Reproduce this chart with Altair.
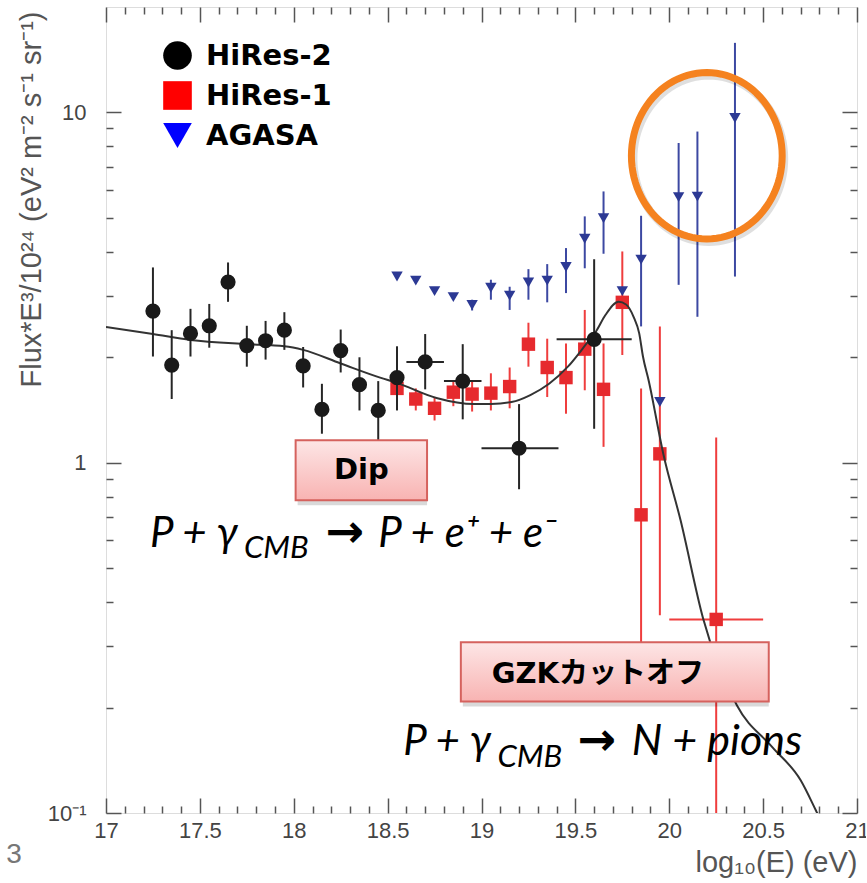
import altair as alt
import numpy as np
import pandas as pd

# ---------------- data: Flux * E^3 / 1e24 versus log10(E) ----------------
series_names = ["HiRes-2", "HiRes-1", "AGASA"]

# HiRes-2
hr2_e = [17.25, 17.35, 17.45, 17.55, 17.65, 17.75, 17.85, 17.95, 18.05, 18.15,
         18.25, 18.35, 18.45, 18.55, 18.70, 18.90, 19.20, 19.60]
hr2_f = [2.71, 1.90, 2.34, 2.46, 3.28, 2.16, 2.23, 2.39, 1.89, 1.42,
         2.09, 1.67, 1.41, 1.75, 1.94, 1.71, 1.10, 2.25]
hr2_hi = [3.61, 2.39, 2.75, 2.84, 3.73, 2.46, 2.54, 2.69, 2.14, 1.68,
          2.40, 2.00, 1.71, 2.15, 2.33, 2.18, 1.47, 3.81]
hr2_lo = [2.01, 1.52, 2.01, 2.13, 2.88, 1.88, 1.97, 2.10, 1.64, 1.21,
          1.81, 1.41, 1.12, 1.41, 1.62, 1.33, 0.84, 1.25]
hr2_bin_lo = [None] * 14 + [18.60, 18.80, 19.00, 19.40]
hr2_bin_hi = [None] * 14 + [18.80, 19.00, 19.41, 19.80]

# HiRes-1
hr1_e = [18.55, 18.65, 18.75, 18.85, 18.95, 19.05, 19.15, 19.25, 19.35, 19.45,
         19.55, 19.65, 19.75, 19.85, 19.95, 20.25]
hr1_f = [1.63, 1.52, 1.43, 1.59, 1.57, 1.58, 1.65, 2.18, 1.87, 1.75,
         2.11, 1.62, 2.87, 0.71, 1.06, 0.357]
hr1_hi = [1.76, 1.63, 1.53, 1.72, 1.72, 1.80, 1.87, 2.51, 2.26, 2.19,
          2.73, 2.19, 4.01, 1.63, 2.45, 1.18]
hr1_lo = [1.48, 1.41, 1.32, 1.45, 1.40, 1.41, 1.43, 1.88, 1.54, 1.38,
          1.61, 1.11, 2.03, 0.22, 0.367, 0.05]
hr1_bin_lo = [None] * 15 + [20.0]
hr1_bin_hi = [None] * 15 + [20.5]

# AGASA
ag_e = [18.55, 18.65, 18.75, 18.85, 18.95, 19.05, 19.15, 19.25, 19.35, 19.45,
        19.55, 19.65, 19.75, 19.85, 19.95, 20.05, 20.15, 20.35]
ag_f = [3.40, 3.31, 3.09, 2.97, 2.82, 3.16, 3.00, 3.27, 3.31, 3.62,
        4.36, 4.99, 3.09, 3.80, 1.49, 5.73, 5.75, 9.64]
ag_hi = [3.40, 3.31, 3.09, 2.97, 2.92, 3.33, 3.18, 3.57, 3.69, 4.10,
         5.05, 5.95, 3.09, 5.07, 1.49, 8.18, 8.82, 15.8]
ag_lo = [3.40, 3.31, 3.09, 2.97, 2.72, 2.92, 2.73, 2.92, 2.87, 3.05,
         3.59, 3.95, 3.09, 2.45, 1.49, 3.22, 2.61, 3.40]

# model curve (dip + GZK cutoff)
cv_e = [17.00, 17.25, 17.45, 17.75, 17.95, 18.05, 18.25, 18.46, 18.55, 18.76,
        18.96, 19.05, 19.16, 19.26, 19.36, 19.46, 19.56, 19.61, 19.66, 19.73,
        19.77, 19.81, 19.84, 19.86, 19.89, 19.97, 20.06, 20.18, 20.36, 20.55,
        20.70, 20.78, 20.85]
cv_f = [2.44, 2.33, 2.24, 2.18, 2.15, 2.10, 1.92, 1.75, 1.69, 1.53,
        1.47, 1.47, 1.49, 1.56, 1.68, 1.88, 2.19, 2.37, 2.64, 2.88,
        2.83, 2.61, 2.34, 2.01, 1.72, 1.05, 0.686, 0.36, 0.203, 0.154,
        0.124, 0.102, 0.085]

# axis ticks
x_major = [17, 17.5, 18, 18.5, 19, 19.5, 20, 20.5, 21]
x_minor = [round(17 + 0.1 * i, 1) for i in range(41) if i % 5 != 0]
y_major = [0.1, 1, 10]
y_minor = [0.2, 0.3, 0.4, 0.5, 0.6, 0.7, 0.8, 0.9, 2, 3, 4, 5, 6, 7, 8, 9]

# annotation boxes and reaction formulas
box_label = ["Dip", "GZKカットオフ"]
box_e0 = [18.01, 18.89]
box_e1 = [18.71, 20.53]
box_f0 = [0.782, 0.208]
box_f1 = [1.16, 0.307]
box_text_e = [18.36, 19.62]
box_text_f = [0.953, 0.250]

eq_text = ["P + γ", "CMB", "P + e⁺ + e⁻", "P + γ", "CMB", "N + pions"]
eq_e = [17.234, 17.735, 18.45, 18.583, 19.085, 19.80]
eq_f = [0.576, 0.533, 0.576, 0.146, 0.1353, 0.146]
eq_size = [42, 31, 42, 42, 31, 43]
arrow_e = [18.170, 19.512]
arrow_f = [0.576, 0.146]

ring_e = [20.20]
ring_f = [7.52]

# ---------------- tables ----------------
hr2 = pd.DataFrame({"e": hr2_e, "f": hr2_f, "f_lo": hr2_lo, "f_hi": hr2_hi,
                    "e_lo": hr2_bin_lo, "e_hi": hr2_bin_hi})
hr1 = pd.DataFrame({"e": hr1_e, "f": hr1_f, "f_lo": hr1_lo, "f_hi": hr1_hi,
                    "e_lo": hr1_bin_lo, "e_hi": hr1_bin_hi})
ag = pd.DataFrame({"e": ag_e, "f": ag_f, "f_lo": ag_lo, "f_hi": ag_hi})
curve = pd.DataFrame({"e": cv_e, "f": cv_f})
legend_df = pd.DataFrame({"series": series_names, "e": [hr2_e[0], hr1_e[0], ag_e[0]],
                          "f": [hr2_f[0], hr1_f[0], ag_f[0]]})
boxes = pd.DataFrame({"label": box_label, "e0": box_e0, "e1": box_e1,
                      "f0": box_f0, "f1": box_f1, "te": box_text_e, "tf": box_text_f})
eqs = pd.DataFrame({"t": eq_text, "e": eq_e, "f": eq_f, "s": eq_size})
arrows = pd.DataFrame({"t": ["→"] * len(arrow_e), "e": arrow_e, "f": arrow_f})
ring = pd.DataFrame({"e": ring_e, "f": ring_f})
page = pd.DataFrame({"t": ["3"]})

xs = alt.Scale(domain=[17, 21], nice=False, zero=False)
ys = alt.Scale(type="log", domain=[0.1, 20], nice=False)

AXIS_FONT = "Liberation Sans"
BOLD_FONT = "'DejaVu Sans', 'Noto Sans CJK JP'"
TICK_COLOR = "#555555"


def x_axis(orient, values, size, labels=False, title=None):
    kw = dict(orient=orient, values=values, tickSize=size, offset=-size, domain=False,
              grid=False, ticks=True, tickColor=TICK_COLOR, tickWidth=1.5,
              labels=labels, title=title)
    if labels:
        kw.update(format=".3~g", labelFont=AXIS_FONT, labelFontSize=22, labelColor="#444444",
                  labelPadding=7, labelFlush=False, labelOverlap=False)
    if title:
        kw.update(titleFont=AXIS_FONT, titleFontSize=29, titleFontWeight="normal",
                  titleColor="#555555", titleX=751, titleY=64, titleAlign="right",
                  titleBaseline="middle", titleAnchor="end")
    return alt.Axis(**kw)


def y_axis(orient, values, size, labels=False, title=None):
    kw = dict(orient=orient, values=values, tickSize=size, offset=-size, domain=False,
              grid=False, ticks=True, tickColor=TICK_COLOR, tickWidth=1.5,
              labels=labels, title=title)
    if labels:
        kw.update(labelExpr="datum.value < 0.5 ? '10⁻¹' : format(datum.value, '~g')",
                  labelFont=AXIS_FONT, labelFontSize=22, labelColor="#444444",
                  labelPadding=20, labelFlush=False, labelOverlap=False)
    if title:
        kw.update(titleFont=AXIS_FONT, titleFontSize=29, titleFontWeight="normal",
                  titleColor="#555555", titleAngle=-90, titleX=-90, titleY=4,
                  titleAlign="right", titleBaseline="middle", titleAnchor="end")
    return alt.Axis(**kw)


def axis_carrier(xa, ya):
    return alt.Chart(curve).mark_point(opacity=0).encode(
        x=alt.X("e:Q", scale=xs, axis=xa),
        y=alt.Y("f:Q", scale=ys, axis=ya),
    )


axes_layers = [
    axis_carrier(x_axis("bottom", x_major, 15, labels=True, title="log₁₀(E) (eV)"),
                 y_axis("left", y_major, 15, labels=True,
                        title="Flux*E³/10²⁴ (eV² m⁻² s⁻¹ sr⁻¹)")),
    axis_carrier(x_axis("bottom", x_minor, 7), y_axis("left", y_minor, 7)),
    axis_carrier(x_axis("top", x_major, 15), y_axis("right", y_major, 15)),
    axis_carrier(x_axis("top", x_minor, 7), y_axis("right", y_minor, 7)),
]

X = alt.X("e:Q", scale=xs, axis=None)
Y = alt.Y("f:Q", scale=ys, axis=None)


def errors(df, color):
    vert = alt.Chart(df).mark_rule(color=color, strokeWidth=2, clip=True).encode(
        x=X, y=alt.Y("f_lo:Q", scale=ys, axis=None), y2="f_hi:Q")
    layers = [vert]
    if "e_lo" in df.columns:
        horiz = alt.Chart(df).transform_filter("isValid(datum.e_lo)").mark_rule(
            color=color, strokeWidth=2, clip=True).encode(
            x=alt.X("e_lo:Q", scale=xs, axis=None), x2="e_hi:Q", y=Y)
        layers.append(horiz)
    return layers


red_err = errors(hr1, "#ef3d3d")
blue_err = errors(ag, "#3c48a2")
black_err = errors(hr2, "#262626")

red_pts = alt.Chart(hr1).mark_point(shape="square", filled=True, size=180, opacity=1,
                                    color="#e62a2e").encode(x=X, y=Y)
blue_pts = alt.Chart(ag).mark_point(shape="triangle-down", filled=True, size=130, opacity=1,
                                    color="#2c3994").encode(x=X, y=Y)
black_pts = alt.Chart(hr2).mark_point(shape="circle", filled=True, size=230, opacity=1,
                                      color="#1a1a1a").encode(x=X, y=Y)

model = alt.Chart(curve).mark_line(color="#333333", strokeWidth=2, interpolate="monotone",
                                   clip=True).encode(x=X, y=Y)

# legend: built from the series scale, no marks drawn by this layer
legend_cfg = dict(
    orient="none", legendX=57, legendY=34, title=None, padding=0,
    labelFont=BOLD_FONT, labelFontSize=29, labelFontWeight="bold", labelColor="#000000",
    labelExpr="datum.label == 'AGASA' ? datum.label : '\u2002' + datum.label",
    symbolSize=820, symbolStrokeWidth=0, rowPadding=10, labelOffset=14)
legend_layer = alt.Chart(legend_df).transform_filter("false").mark_point(
    filled=True, opacity=1).encode(
    x=X, y=Y,
    color=alt.Color("series:N",
                    scale=alt.Scale(domain=series_names, range=["#000000", "#ff0000", "#0000ff"]),
                    legend=alt.Legend(**legend_cfg)),
    shape=alt.Shape("series:N",
                    scale=alt.Scale(domain=series_names,
                                    range=["circle", "square", "triangle-down"]),
                    legend=alt.Legend(**legend_cfg)),
)

# highlighted region around the highest-energy AGASA events
theta = np.linspace(0, 2 * np.pi, 97)
ring_path = "M" + " L".join(f"{0.906 * np.cos(t):.4f},{np.sin(t):.4f}" for t in theta) + " Z"
ring_shadow = alt.Chart(ring).mark_point(shape=ring_path, size=27700, filled=False,
                                         stroke="#000000", strokeWidth=8, opacity=0.12,
                                         xOffset=2, yOffset=3).encode(x=X, y=Y)
ring_mark = alt.Chart(ring).mark_point(shape=ring_path, size=27700, filled=False,
                                       stroke="#f5821f", strokeWidth=7, opacity=1).encode(x=X, y=Y)

box_fill = alt.LinearGradient(
    gradient="linear", x1=0, x2=0, y1=0, y2=1,
    stops=[alt.GradientStop(color="#fde6e6", offset=0),
           alt.GradientStop(color="#f8b3b2", offset=1)])
box_shadow = alt.Chart(boxes).mark_rect(color="#000000", opacity=0.15, xOffset=2,
                                        yOffset=5).encode(
    x=alt.X("e0:Q", scale=xs, axis=None), x2="e1:Q",
    y=alt.Y("f0:Q", scale=ys, axis=None), y2="f1:Q")
box_rect = alt.Chart(boxes).mark_rect(fill=box_fill, stroke="#d5625e", strokeWidth=2).encode(
    x=alt.X("e0:Q", scale=xs, axis=None), x2="e1:Q",
    y=alt.Y("f0:Q", scale=ys, axis=None), y2="f1:Q")
box_text = alt.Chart(boxes).mark_text(font=BOLD_FONT, fontWeight="bold", fontSize=29,
                                      align="center", baseline="middle", color="#000000").encode(
    x=alt.X("te:Q", scale=xs, axis=None), y=alt.Y("tf:Q", scale=ys, axis=None), text="label:N")

eq_marks = alt.Chart(eqs).mark_text(font="Lato", fontStyle="italic", align="left",
                                    baseline="alphabetic", color="#000000").encode(
    x=X, y=Y, text="t:N", size=alt.Size("s:Q", scale=None, legend=None))
arrow_marks = alt.Chart(arrows).mark_text(font="DejaVu Sans", fontWeight="bold", fontSize=46,
                                          align="left", baseline="alphabetic",
                                          color="#000000").encode(x=X, y=Y, text="t:N")

page_mark = alt.Chart(page).mark_text(font=AXIS_FONT, fontSize=28, color="#777777",
                                      align="center", baseline="middle").encode(
    text="t:N", x=alt.value(-92), y=alt.value(848))

chart = alt.layer(
    *axes_layers,
    *red_err, red_pts,
    *blue_err, blue_pts,
    model,
    *black_err, black_pts,
    legend_layer,
    ring_shadow, ring_mark,
    box_shadow, box_rect, box_text,
    eq_marks, arrow_marks,
    page_mark,
).resolve_axis(x="independent", y="independent").properties(
    width=751, height=806,
    padding={"left": 106, "top": 7, "right": 9, "bottom": 70},
    autosize=alt.AutoSizeParams(type="none"),
).configure_view(stroke="#555555", strokeWidth=1.5).configure(background="white")

chart.save("out.html", embed_options={"renderer": "svg", "actions": False})
